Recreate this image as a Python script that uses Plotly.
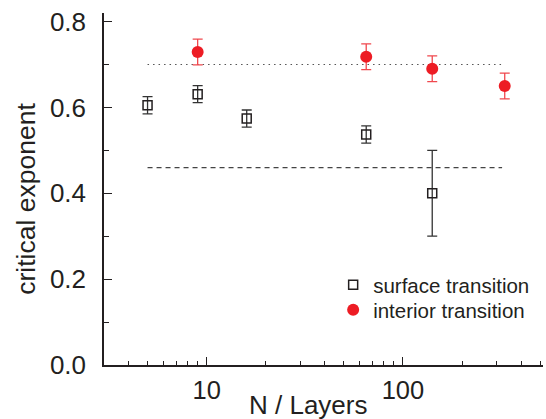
import plotly.graph_objects as go
import math

# ---- data ----
surf_N = [5, 9, 16, 65, 141]
surf_val = [0.605, 0.631, 0.574, 0.537, 0.40]
surf_err = [0.02, 0.02, 0.02, 0.02, 0.10]

int_N = [9, 65, 141, 330]
int_val = [0.729, 0.718, 0.690, 0.650]
int_err = [0.03, 0.03, 0.03, 0.03]

dotted_N = [5, 330]
dotted_val = [0.70, 0.70]
dashed_N = [5, 320]
dashed_val = [0.46, 0.46]

x_major = [10, 100]
x_major_text = ["10", "100"]
x_minor = [4, 5, 6, 7, 8, 9, 20, 30, 40, 50, 60, 70, 80, 90, 200, 300, 400, 500]
y_major = [0.0, 0.2, 0.4, 0.6, 0.8]
y_major_text = ["0.0", "0.2", "0.4", "0.6", "0.8"]

FONT = "Liberation Sans, Arial, sans-serif"
TXT = "#231f20"
RED = "#ed1c24"

fig = go.Figure()

fig.add_trace(go.Scatter(x=dotted_N, y=dotted_val, mode="lines",
                         line=dict(color="#555555", width=1.2, dash="1.5px,4px"),
                         showlegend=False, hoverinfo="skip"))
fig.add_trace(go.Scatter(x=dashed_N, y=dashed_val, mode="lines",
                         line=dict(color="#444444", width=1.2, dash="5px,4px"),
                         showlegend=False, hoverinfo="skip"))

fig.add_trace(go.Scatter(
    x=surf_N, y=surf_val, mode="markers", name="surface transition", legend="legend",
    marker=dict(symbol="square-open", size=9, color="#231f20", line=dict(width=1.5, color="#231f20")),
    error_y=dict(type="data", array=surf_err, visible=True, color="#333333", thickness=1.3, width=5),
))
fig.add_trace(go.Scatter(
    x=int_N, y=int_val, mode="markers", name="interior transition", legend="legend2",
    marker=dict(symbol="circle", size=12, color=RED),
    error_y=dict(type="data", array=int_err, visible=True, color="#f0484e", thickness=1.3, width=5),
))

legend_common = dict(xanchor="left", yanchor="top",
                     font=dict(size=20.5, family=FONT, color=TXT),
                     bgcolor="rgba(0,0,0,0)", itemwidth=30)

fig.update_layout(
    width=546, height=419,
    margin=dict(l=104, r=3, t=13, b=54),
    paper_bgcolor="white", plot_bgcolor="white",
    font=dict(family=FONT, color=TXT),
    legend=dict(x=0.522, y=0.284, **legend_common),
    legend2=dict(x=0.522, y=0.213, **legend_common),
    annotations=[
        dict(text="N / Layers", xref="paper", yref="paper", x=0.466, y=-0.1136,
             xanchor="center", yanchor="middle", showarrow=False,
             font=dict(size=26, family=FONT, color=TXT)),
        dict(text="critical exponent", xref="paper", yref="paper", x=-0.178, y=0.472,
             xanchor="center", yanchor="middle", showarrow=False, textangle=-90,
             font=dict(size=26.5, family=FONT, color=TXT)),
    ],
)

fig.update_xaxes(
    type="log", range=[math.log10(3), math.log10(517)],
    showline=True, linecolor="#231f20", linewidth=1.5, mirror=False,
    showgrid=False, zeroline=False,
    tickmode="array", tickvals=x_major, ticktext=x_major_text,
    ticks="inside", ticklen=8, tickwidth=1.3, tickcolor="#231f20",
    tickfont=dict(size=25.5, family=FONT, color=TXT), ticklabelstandoff=2,
    minor=dict(tickmode="array", tickvals=x_minor, ticks="inside", ticklen=4,
               tickwidth=1.2, tickcolor="#231f20", showgrid=False),
)
fig.update_yaxes(
    range=[0, 0.82],
    showline=True, linecolor="#231f20", linewidth=1.5, mirror=False,
    showgrid=False, zeroline=False,
    tickmode="array", tickvals=y_major, ticktext=y_major_text,
    ticks="inside", ticklen=8, tickwidth=1.3, tickcolor="#231f20",
    tickfont=dict(size=26, family=FONT, color=TXT), ticklabelstandoff=11,
    minor=dict(dtick=0.1, ticks="inside", ticklen=5, tickwidth=1.2,
               tickcolor="#231f20", showgrid=False),
)

fig.write_html("out.html", config={"displayModeBar": False},
               post_script="document.body.style.margin='0';document.body.style.overflow='hidden';")
